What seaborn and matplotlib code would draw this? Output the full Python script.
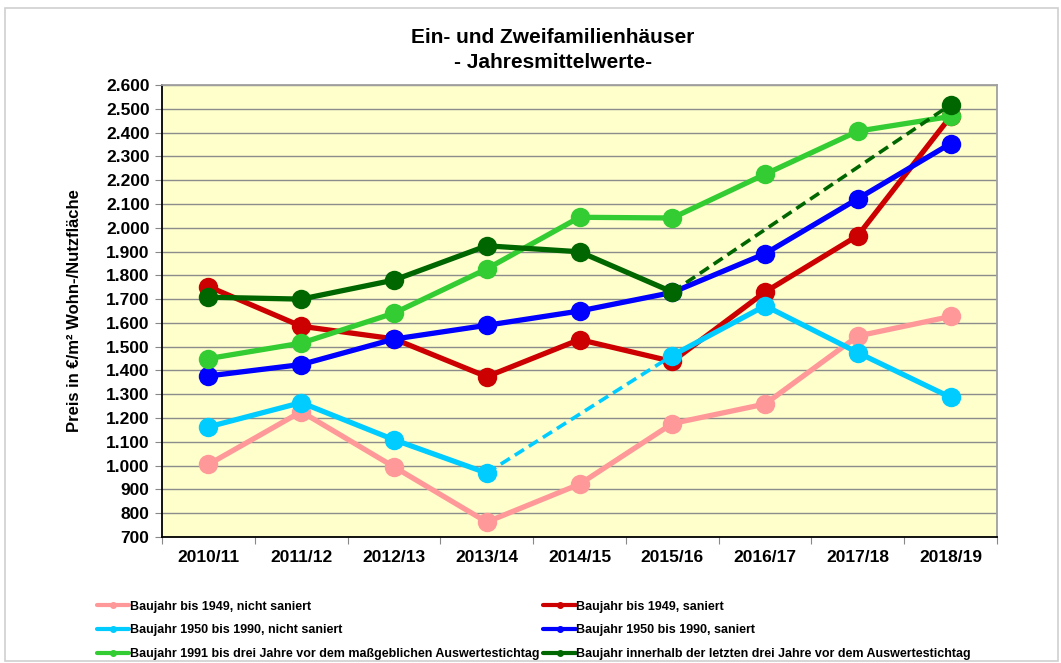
import numpy as np
import matplotlib
matplotlib.use("Agg")
import matplotlib.pyplot as plt
from matplotlib.lines import Line2D
from matplotlib.patches import Rectangle
import seaborn as sns

# Data (Preis in EUR/m2, Jahresmittelwerte)
jahre = ["2010/11", "2011/12", "2012/13", "2013/14", "2014/15",
         "2015/16", "2016/17", "2017/18", "2018/19"]
bis1949_nicht = [1005, 1227, 995, 763, 922, 1177, 1259, 1545, 1627]
bis1949_saniert = [1753, 1586, 1533, 1374, 1530, 1438, 1730, 1967, 2468]
b1950_1990_nicht = [1163, 1265, 1109, 969, np.nan, 1463, 1672, 1475, 1287]
b1950_1990_saniert = [1377, 1425, 1532, 1590, 1650, 1728, 1891, 2122, 2354]
b1991_bis_drei = [1450, 1515, 1641, 1827, 2044, 2041, 2225, 2406, 2468]
letzte_drei = [1708, 1700, 1780, 1924, 1899, 1730, np.nan, np.nan, 2517]

labels = [
    "Baujahr bis 1949, nicht saniert",
    "Baujahr bis 1949, saniert",
    "Baujahr 1950 bis 1990, nicht saniert",
    "Baujahr 1950 bis 1990, saniert",
    "Baujahr 1991 bis drei Jahre vor dem maßgeblichen Auswertestichtag",
    "Baujahr innerhalb der letzten drei Jahre vor dem Auswertestichtag",
]
serien = [bis1949_nicht, bis1949_saniert, b1950_1990_nicht,
          b1950_1990_saniert, b1991_bis_drei, letzte_drei]
farben = ["#FF9999", "#CC0000", "#00CCFF", "#0000FF", "#33CC33", "#006600"]

sns.set_theme(style="white")
plt.rcParams["font.family"] = ["Liberation Sans", "DejaVu Sans"]
plt.rcParams["text.color"] = "black"
plt.rcParams["axes.labelcolor"] = "black"
plt.rcParams["xtick.color"] = "black"
plt.rcParams["ytick.color"] = "black"

fig = plt.figure(figsize=(10.61, 6.63), dpi=100)
ax = fig.add_axes([0.1527, 0.190, 0.7870, 0.6818])
ax.set_facecolor("#FFFFCC")

x = np.arange(len(jahre))

for i, (werte, farbe) in enumerate(zip(serien, farben)):
    werte = np.array(werte, dtype=float)
    ok = ~np.isnan(werte)
    # dashed connectors over missing years
    idx = np.where(ok)[0]
    for a, b in zip(idx[:-1], idx[1:]):
        if b - a > 1:
            ax.plot([x[a], x[b]], [werte[a], werte[b]], color=farbe,
                    linewidth=2.6, linestyle=(0, (3, 1.6)), zorder=2 + i * 2)
    # solid runs
    start = None
    for k in range(len(werte) + 1):
        if k < len(werte) and ok[k]:
            if start is None:
                start = k
        elif start is not None:
            sns.lineplot(x=x[start:k], y=werte[start:k], color=farbe,
                         linewidth=3.8, marker="o", markersize=14,
                         markeredgewidth=0, ax=ax, zorder=3 + i * 2)
            start = None

ax.set_xlim(-0.5, len(jahre) - 0.5)
ax.set_ylim(700, 2600)
ax.set_yticks(np.arange(700, 2601, 100))
ax.set_yticklabels([f"{v:,.0f}".replace(",", ".") for v in np.arange(700, 2601, 100)],
                   fontsize=12.5, fontweight="bold")
ax.set_xticks(x)
ax.set_xticklabels(jahre, fontsize=12.5, fontweight="bold")
ax.set_xticks(np.arange(-0.5, len(jahre), 1), minor=True)
ax.tick_params(axis="x", which="major", length=0, pad=9)
ax.tick_params(axis="x", which="minor", length=5, width=0.8, color="#888888",
               bottom=True)
ax.tick_params(axis="y", which="major", length=5, width=0.8, color="#888888",
               left=True, pad=4)

ax.grid(axis="y", color="#8C8C8C", linewidth=1.0)
ax.set_axisbelow(True)

for side in ["left", "bottom"]:
    ax.spines[side].set_color("black")
    ax.spines[side].set_linewidth(1.3)
for side in ["top", "right"]:
    ax.spines[side].set_color("#A0A0A0")
    ax.spines[side].set_linewidth(1.3)

ax.set_xlabel("")
ax.set_ylabel("Preis in €/m² Wohn-/Nutzfläche", fontsize=12,
              fontweight="bold", labelpad=17)

fig.text(0.521, 0.943, "Ein- und Zweifamilienhäuser", ha="center", va="center",
         fontsize=15, fontweight="bold")
fig.text(0.521, 0.905, "- Jahresmittelwerte-", ha="center", va="center",
         fontsize=15, fontweight="bold")

# Legend: column-wise order for ncol=2
handles = [Line2D([0], [0], color=c, linewidth=3.0, marker="o", markersize=4)
           for c in farben]
order = [0, 2, 4, 1, 3, 5]
fig.legend([handles[i] for i in order], [labels[i] for i in order],
           ncol=2, loc="upper left", bbox_to_anchor=(0.0914, 0.094),
           frameon=False, prop={"size": 9, "weight": "bold"},
           handlelength=2.6, handletextpad=0.05, columnspacing=0.3,
           labelspacing=0.93, borderaxespad=0, borderpad=0)

fig.patches.append(Rectangle((0.005, 0.003), 0.992, 0.985, transform=fig.transFigure,
                             fill=False, edgecolor="#D0D0D0", linewidth=1.2))

fig.savefig("out.png", dpi=100)
